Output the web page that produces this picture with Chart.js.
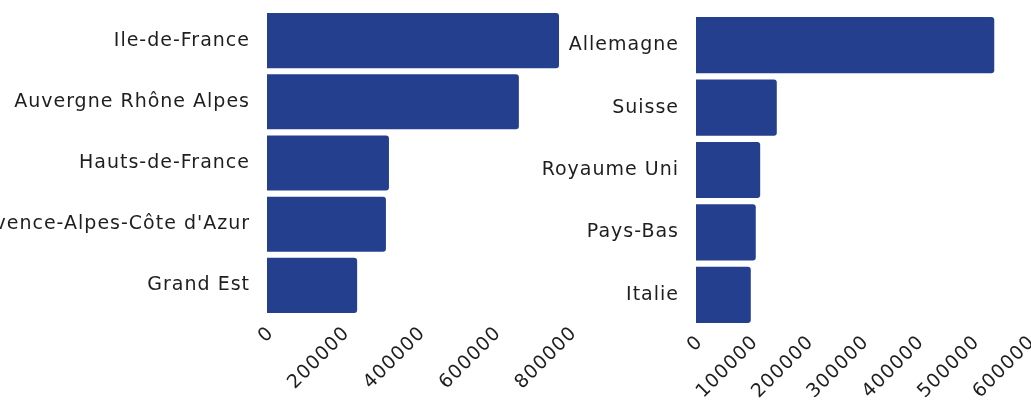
<!DOCTYPE html>
<html>
<head>
<meta charset="utf-8">
<script src="https://cdn.jsdelivr.net/npm/chart.js@4"></script>
<style>
  html, body { margin: 0; padding: 0; background: #fff; overflow: hidden; }
  body { width: 1031px; height: 400px; position: relative; }
  canvas { position: absolute; top: 0; }
</style>
</head>
<body>
<canvas id="regionsChart" width="600" height="400" style="left:0"></canvas>
<canvas id="countriesChart" width="491" height="400" style="left:540px"></canvas>
<script>
// Régions
const regions = ["Ile-de-France", "Auvergne Rhône Alpes", "Hauts-de-France", "Provence-Alpes-Côte d'Azur", "Grand Est"];
const regionValues = [771000, 665000, 322000, 314000, 238000];
const regionTicks = [0, 200000, 400000, 600000, 800000];

// Pays
const countries = ["Allemagne", "Suisse", "Royaume Uni", "Pays-Bas", "Italie"];
const countryValues = [539000, 146000, 116000, 108000, 99000];
const countryTicks = [0, 100000, 200000, 300000, 400000, 500000, 600000];

const barColor = "#253f8f";
const textColor = "#1e1e1e";
const font = { family: "'DejaVu Sans'", size: 19 };

// un peu d'espacement entre les lettres, la police est large
const letterSpacing = {
    id: "letterSpacing",
    beforeUpdate(chart) { chart.ctx.letterSpacing = "1px"; },
    beforeDraw(chart) { chart.ctx.letterSpacing = "1px"; },
};

// pas de marges automatiques autour des axes
function noPadding(scale) {
    scale.paddingTop = 0;
    scale.paddingBottom = 0;
    scale.paddingLeft = 0;
    scale.paddingRight = 0;
}

function drawBars(id, labels, values, ticks, box) {
    const ctx = document.getElementById(id);
    new Chart(ctx, {
        type: "bar",
        data: {
            labels: labels,
            datasets: [{
                data: values,
                backgroundColor: barColor,
                borderRadius: 3,
                borderSkipped: "start",
                barPercentage: 0.9,
                categoryPercentage: 1.0,
            }],
        },
        options: {
            indexAxis: "y",
            responsive: false,
            animation: false,
            layout: {
                autoPadding: false,
                padding: { top: box.top, right: box.right, bottom: 0, left: 0 },
            },
            plugins: {
                legend: { display: false },
                tooltip: { enabled: false },
            },
            scales: {
                x: {
                    min: ticks[0],
                    max: ticks[ticks.length - 1],
                    grid: { display: false, drawTicks: false },
                    border: { display: false },
                    afterFit: (scale) => { noPadding(scale); scale.height = box.axisHeight; },
                    ticks: {
                        stepSize: ticks[1] - ticks[0],
                        autoSkip: false,
                        minRotation: 45,
                        maxRotation: 45,
                        padding: box.tickPadding,
                        labelOffset: 4,
                        color: textColor,
                        font: { ...font, lineHeight: 0.8 },
                        callback: (v) => String(v),
                    },
                },
                y: {
                    grid: { display: false, drawTicks: false },
                    border: { display: false },
                    afterFit: (scale) => { noPadding(scale); scale.width = box.labelWidth; },
                    ticks: {
                        padding: 17,
                        color: textColor,
                        font: font,
                    },
                },
            },
        },
        plugins: [letterSpacing],
    });
}

drawBars("regionsChart", regions, regionValues, regionTicks,
    { top: 10, right: 30, axisHeight: 84, labelWidth: 267, tickPadding: 9 });
drawBars("countriesChart", countries, countryValues, countryTicks,
    { top: 14, right: 3, axisHeight: 74, labelWidth: 156, tickPadding: 8 });
</script>
</body>
</html>
